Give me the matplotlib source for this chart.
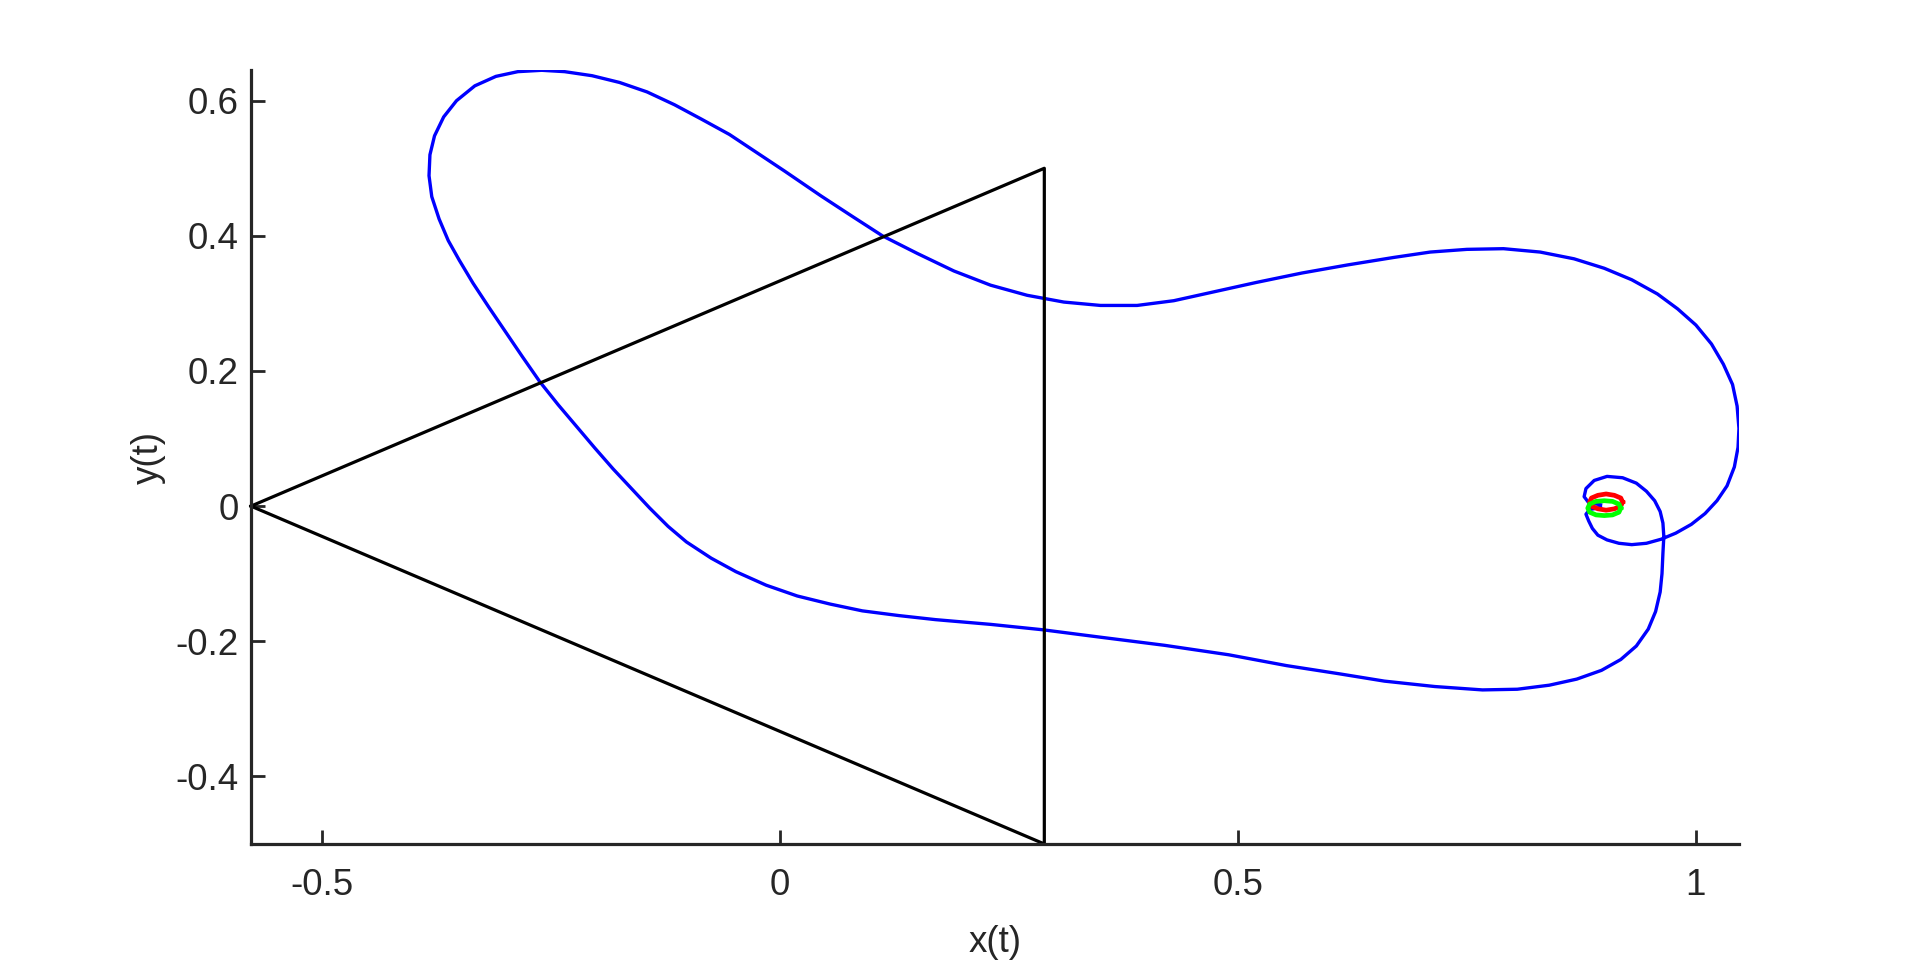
import numpy as np
import matplotlib.pyplot as plt

plt.rcParams['font.family'] = ['Liberation Sans', 'DejaVu Sans']
plt.rcParams['axes.unicode_minus'] = False

# triangle (equilateral, side 1, centred at origin)
tri_x = [-0.5774, 0.2887, 0.2887, -0.5774]
tri_y = [0.0, 0.5, -0.5, 0.0]

# trajectory (starts and ends inside the small loop)
traj_x = [0.896, 0.884, 0.880, 0.883, 0.887, 0.893, 0.903, 0.916, 0.930, 0.946,
          0.962, 0.978, 0.995, 1.010, 1.023, 1.034, 1.042, 1.046, 1.047, 1.045,
          1.040, 1.030, 1.017, 1.000, 0.980, 0.958, 0.930, 0.900, 0.867, 0.830,
          0.790, 0.750, 0.710, 0.670, 0.620, 0.570, 0.520, 0.470, 0.430, 0.390,
          0.350, 0.310, 0.270, 0.230, 0.190, 0.150, 0.112, 0.080, 0.045, 0.005,
          -0.025, -0.055, -0.086, -0.115, -0.145, -0.175, -0.205, -0.235, -0.260, -0.286,
          -0.310, -0.333, -0.353, -0.367, -0.377, -0.382, -0.383, -0.380, -0.372, -0.362,
          -0.350, -0.335, -0.318, -0.300, -0.281, -0.262, -0.242, -0.222, -0.202, -0.182,
          -0.162, -0.142, -0.122, -0.102, -0.075, -0.048, -0.015, 0.019, 0.055, 0.090,
          0.130, 0.170, 0.230, 0.287, 0.350, 0.420, 0.490, 0.553, 0.610, 0.660,
          0.715, 0.767, 0.805, 0.840, 0.870, 0.897, 0.918, 0.935, 0.948, 0.956,
          0.961, 0.963, 0.964, 0.965, 0.964, 0.961, 0.955, 0.946, 0.935, 0.920,
          0.903, 0.889, 0.880, 0.878, 0.883, 0.896]
traj_y = [-0.002, -0.005, -0.012, -0.022, -0.033, -0.043, -0.050, -0.055, -0.057, -0.055,
          -0.049, -0.040, -0.027, -0.011, 0.008, 0.030, 0.058, 0.087, 0.115, 0.148,
          0.180, 0.210, 0.240, 0.268, 0.292, 0.314, 0.335, 0.352, 0.366, 0.376,
          0.381, 0.380, 0.376, 0.368, 0.357, 0.345, 0.331, 0.316, 0.304, 0.297,
          0.297, 0.302, 0.312, 0.327, 0.348, 0.374, 0.400, 0.428, 0.459, 0.496,
          0.523, 0.550, 0.573, 0.594, 0.613, 0.627, 0.637, 0.643, 0.645, 0.643,
          0.636, 0.622, 0.600, 0.576, 0.548, 0.520, 0.489, 0.458, 0.425, 0.393,
          0.364, 0.330, 0.295, 0.259, 0.221, 0.184, 0.150, 0.118, 0.086, 0.055,
          0.026, -0.003, -0.030, -0.053, -0.077, -0.097, -0.117, -0.133, -0.145, -0.155,
          -0.162, -0.168, -0.175, -0.183, -0.194, -0.206, -0.220, -0.236, -0.248, -0.259,
          -0.267, -0.272, -0.271, -0.265, -0.256, -0.243, -0.227, -0.207, -0.182, -0.156,
          -0.127, -0.100, -0.070, -0.045, -0.025, -0.008, 0.008, 0.022, 0.034, 0.042,
          0.044, 0.038, 0.026, 0.014, 0.005, 0.002]

# small loops at the end
red_x = [0.920, 0.918, 0.911, 0.902, 0.893, 0.886, 0.884, 0.886, 0.893, 0.902, 0.911, 0.918, 0.920]
red_y = [0.006, 0.012, 0.016, 0.018, 0.016, 0.012, 0.006, 0.000, -0.004, -0.006, -0.004, 0.000, 0.006]
green_x = [0.918, 0.916, 0.909, 0.900, 0.891, 0.884, 0.882, 0.884, 0.891, 0.900, 0.909, 0.916, 0.918]
green_y = [-0.003, 0.003, 0.007, 0.008, 0.007, 0.003, -0.003, -0.009, -0.013, -0.014, -0.013, -0.009, -0.003]

fig = plt.figure(figsize=(19.2, 9.63), dpi=100)
ax = fig.add_axes([0.1307, 0.1236, 0.775, 0.8034])

ax.plot(traj_x, traj_y, color=(0, 0, 1), lw=2.4, solid_joinstyle='round')
ax.plot(red_x, red_y, color=(1, 0, 0), lw=3.4)
ax.plot(green_x, green_y, color=(0, 1, 0), lw=3.4)
ax.plot(tri_x, tri_y, color='black', lw=2.3, clip_on=False)

ax.set_xlim(min(tri_x), max(traj_x))
ax.set_ylim(min(tri_y), max(traj_y))

ax.set_xticks([-0.5, 0, 0.5, 1])
ax.set_xticklabels(['-0.5', '0', '0.5', '1'])
ax.set_yticks([-0.4, -0.2, 0, 0.2, 0.4, 0.6])
ax.set_yticklabels(['-0.4', '-0.2', '0', '0.2', '0.4', '0.6'])

for s in ['top', 'right']:
    ax.spines[s].set_visible(False)
for s in ['left', 'bottom']:
    ax.spines[s].set_color('#262626')
    ax.spines[s].set_linewidth(2.3)

ax.tick_params(direction='in', length=10, width=2.0, colors='#262626',
               labelsize=26.5)
ax.tick_params(axis='x', pad=17)
ax.tick_params(axis='y', pad=9)
ax.set_xlabel('x(t)', fontsize=26.5, color='#262626', labelpad=16)
ax.set_ylabel('y(t)', fontsize=26.5, color='#262626', labelpad=7)

fig.savefig('out.png', dpi=100)
